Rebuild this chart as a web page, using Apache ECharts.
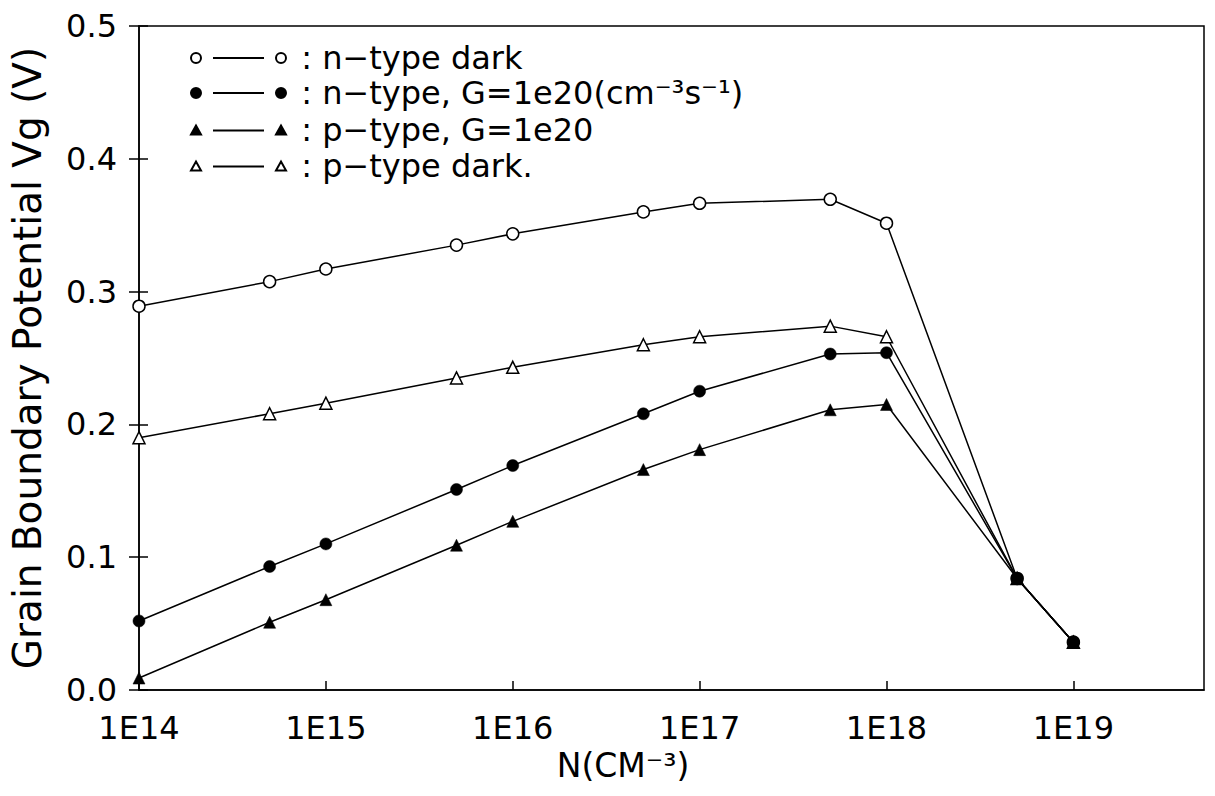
<!DOCTYPE html>
<html><head><meta charset="utf-8">
<script src="https://cdn.jsdelivr.net/npm/echarts@6/dist/echarts.min.js"></script>
<style>html,body{margin:0;padding:0;background:#fff}#c{width:1215px;height:796px}</style>
</head><body><div id="c"></div>
<script>
// ---- data ----
const N = [1e14, 5e14, 1e15, 5e15, 1e16, 5e16, 1e17, 5e17, 1e18, 5e18, 1e19];
const nDark  = [0.289, 0.3075, 0.317, 0.335, 0.3435, 0.360, 0.3665, 0.3695, 0.3515, 0.084, 0.036];
const pDark  = [0.190, 0.208, 0.216, 0.235, 0.243, 0.260, 0.266, 0.274, 0.266, 0.084, 0.036];
const pLight = [0.009, 0.051, 0.068, 0.109, 0.127, 0.166, 0.181, 0.211, 0.215, 0.084, 0.036];
const nLight = [0.052, 0.093, 0.110, 0.151, 0.169, 0.208, 0.225, 0.253, 0.254, 0.084, 0.036];
const yTickLabels = ['0.0', '0.1', '0.2', '0.3', '0.4', '0.5'];
const xTickLabels = ['1E14', '1E15', '1E16', '1E17', '1E18', '1E19'];
const legendNames = ['n-type dark', 'n-type, G=1e20', 'p-type, G=1e20', 'p-type dark.'];
const legendLabels = [' : n−type dark', ' : n−type, G=1e20(cm⁻³s⁻¹)', ' : p−type, G=1e20', ' : p−type dark.'];

const FONT = 'DejaVu Sans';
const pair = a => N.map((x, i) => [x, a[i]]);

const ICON_CIRC = 'path://M0,5a5,5 0 1,0 10,0a5,5 0 1,0 -10,0Z M23,4.9L72,4.9L72,5.1L23,5.1Z M85,5a5,5 0 1,0 10,0a5,5 0 1,0 -10,0Z';
const ICON_TRI = 'path://M0,10L5,1L10,10Z M23,5.9L72,5.9L72,6.1L23,6.1Z M85,10L90,1L95,10Z';

const openStyle = {color: '#fff', borderColor: '#000', borderWidth: 1.5};
const fillStyle = {color: '#000', borderColor: '#000', borderWidth: 0.5};
const lineStyle = {color: '#000', width: 1.5};

function mkSeries(name, data, symbol, style) {
  return {
    name, type: 'line', data: pair(data), symbol, symbolSize: 12,
    itemStyle: style, lineStyle, emphasis: {disabled: true}, animation: false
  };
}

const legendTops = [42, 77, 114, 150];
const legendIcons = [ICON_CIRC, ICON_CIRC, ICON_TRI, ICON_TRI];

const legends = legendNames.map((nm, i) => ({
  data: [{name: nm, icon: legendIcons[i]}],
  left: 190, top: legendTops[i], padding: 0,
  itemWidth: 95, itemHeight: 10, selectedMode: false,
  formatter: () => legendLabels[i],
  textStyle: {fontFamily: FONT, fontSize: 32, color: '#000'}
}));

const yCommon = {type: 'value', min: 0, max: 0.5, interval: 0.1, splitLine: {show: false}};

const option = {
  backgroundColor: '#fff',
  animation: false,
  textStyle: {fontFamily: FONT},
  grid: {left: 135, right: 11, top: 26, bottom: 106, show: true, borderColor: '#000', borderWidth: 1.5},
  legend: legends,
  xAxis: {
    type: 'log', logBase: 10, min: 1e14, max: 5e19,
    axisLine: {lineStyle: {color: '#000', width: 1.5}},
    axisTick: {inside: true, length: 9, lineStyle: {color: '#000', width: 1.5}},
    splitLine: {show: false}, minorTick: {show: false},
    axisLabel: {
      color: '#000', fontFamily: FONT, fontSize: 32, margin: 22, showMaxLabel: false,
      formatter: v => {
        const e = Math.log10(v);
        if (Math.abs(e - Math.round(e)) > 1e-6) return '';
        const idx = Math.round(e) - 14;
        return xTickLabels[idx] || '';
      }
    },
    name: 'N(CM⁻³)', nameLocation: 'middle', nameGap: 50,
    nameTextStyle: {color: '#000', fontFamily: FONT, fontSize: 33, padding: [0, 97, 0, 0]}
  },
  yAxis: [
    Object.assign({}, yCommon, {
      axisLine: {show: true, lineStyle: {color: '#000', width: 1.5}},
      axisTick: {inside: true, length: 9, lineStyle: {color: '#000', width: 1.5}},
      axisLabel: {color: '#000', fontFamily: FONT, fontSize: 32, margin: 22,
        formatter: v => yTickLabels[Math.round(v * 10)]},
      name: 'Grain Boundary Potential Vg (V)', nameLocation: 'middle', nameGap: 92,
      nameTextStyle: {color: '#000', fontFamily: FONT, fontSize: 39}
    }),
    Object.assign({}, yCommon, {
      position: 'left', offset: 0,
      axisLine: {show: false},
      axisTick: {show: true, inside: false, length: 10, lineStyle: {color: '#000', width: 1.5}},
      axisLabel: {show: false}
    })
  ],
  series: [
    mkSeries(legendNames[0], nDark, 'circle', openStyle),
    mkSeries(legendNames[3], pDark, 'triangle', openStyle),
    mkSeries(legendNames[2], pLight, 'triangle', fillStyle),
    mkSeries(legendNames[1], nLight, 'circle', fillStyle)
  ]
};

const chart = echarts.init(document.getElementById('c'), null, {renderer: 'svg'});
chart.setOption(option);
</script>
</body></html>
